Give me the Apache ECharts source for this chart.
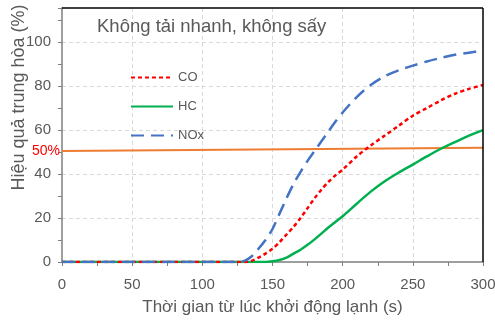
<!DOCTYPE html>
<html><head><meta charset="utf-8">
<script src="https://cdn.jsdelivr.net/npm/echarts@6/dist/echarts.min.js"></script>
<style>html,body{margin:0;padding:0;background:#fff}#c{width:495px;height:321px}</style>
</head><body><div id="c"></div>
<script>
const titleText = 'Không tải nhanh, không sấy';
const xName = 'Thời gian từ lúc khởi động lạnh (s)';
const yName = 'Hiệu quả trung hòa (%)';
const seriesNames = ['CO', 'HC', 'NOx'];
const times = [0, 120, 125, 130, 135, 140, 145, 150, 155, 160, 165, 170, 175, 180, 185, 190, 195, 200, 210, 220, 230, 240, 250, 260, 270, 280, 290, 300];
const coValues  = [0, 0, 0, 0, 0.5, 2, 3.8, 6, 9, 12.5, 16, 20, 24.5, 29, 33, 36.5, 39.5, 42, 48, 53, 57.5, 62, 66.5, 70, 73.5, 76.5, 78.7, 80.5];
const hcValues  = [0, 0, 0, 0, 0, 0, 0, 0.3, 0.9, 2, 3.8, 5.6, 7.8, 10.3, 13, 15.8, 18.3, 20.8, 26.5, 32, 36.7, 40.7, 44.3, 48, 51.5, 54.5, 57.5, 60];
const noxValues = [0, 0, 0, 0.5, 2.5, 6, 10, 15, 22, 29, 35.5, 41, 46, 50.5, 55, 59.5, 64, 68, 75, 80.5, 84.5, 87.2, 89.3, 91.2, 92.8, 94.2, 95.2, 96];
const refTimes = [0, 300];
const refValues = [50.5, 52];
const refLabel = '50%';
const xTicks = [0, 50, 100, 150, 200, 250, 300];
const yTicks = [0, 20, 40, 60, 80, 100];
const X_MIN = 0, X_MAX = 300, Y_MIN = 0, Y_MAX = 115.5;

const FONT = 'Liberation Sans';
const chart = echarts.init(document.getElementById('c'));
const pair = (xs, ys) => xs.map((x, i) => [x, ys[i]]);
chart.setOption({
  animation: false,
  backgroundColor: '#fff',
  textStyle: { fontFamily: FONT },
  title: { text: titleText, left: 92, top: 12, textStyle: { fontFamily: FONT, fontSize: 18.5, fontWeight: 'normal', color: '#595959' } },
  legend: {
    data: seriesNames, orient: 'vertical', left: 125, top: 66,
    itemWidth: 42, itemHeight: 14, itemGap: 16,
    itemStyle: { opacity: 0 },
    textStyle: { fontFamily: FONT, fontSize: 13, color: '#595959' }
  },
  grid: { left: 62, right: 12, top: 8, bottom: 59, outerBoundsMode: 'none' },
  xAxis: [{
    type: 'value', min: X_MIN, max: X_MAX, interval: 50,
    name: xName, nameLocation: 'middle', nameGap: 37, nameMoveOverlap: false,
    nameTextStyle: { fontFamily: FONT, fontSize: 17, color: '#595959' },
    axisLine: { onZero: false, lineStyle: { color: '#7f7f7f', width: 1.5 } },
    axisTick: { show: true, length: 4, lineStyle: { color: '#7f7f7f' } },
    minorTick: { show: true, splitNumber: 2, length: 4, lineStyle: { color: '#7f7f7f' } },
    axisLabel: { fontFamily: FONT, fontSize: 15, color: '#595959', margin: 15, formatter: v => xTicks.includes(v) ? String(v) : '' },
    splitLine: { show: true, showMinLine: false, showMaxLine: false, lineStyle: { color: '#d9d9d9', type: [4, 3], width: 1 } }
  }],
  yAxis: [{
    type: 'value', min: Y_MIN, max: Y_MAX, interval: 20,
    name: yName, nameLocation: 'middle', nameGap: 34, nameMoveOverlap: false,
    nameTextStyle: { fontFamily: FONT, fontSize: 18, color: '#595959', padding: [0, 0, 0, 75] },
    axisLine: { show: true, onZero: false, lineStyle: { color: '#7f7f7f', width: 1.5 } },
    axisTick: { show: false },
    axisLabel: { fontFamily: FONT, fontSize: 15, color: '#595959', margin: 11, showMaxLabel: false, formatter: v => yTicks.includes(v) ? String(v) : '' },
    splitLine: { show: true, showMinLine: false, showMaxLine: false, lineStyle: { color: '#d9d9d9', type: [4, 3], width: 1 } }
  }, {
    type: 'value', min: Y_MIN, max: Y_MAX, interval: 10, position: 'left',
    axisLine: { show: false, onZero: false },
    axisTick: { show: true, length: 4, lineStyle: { color: '#7f7f7f' } },
    axisLabel: { show: false },
    splitLine: { show: false }
  }],
  series: [
    { name: 'ref', type: 'line', data: pair(refTimes, refValues).map((d, i) => i === 0 ? { value: d, label: { show: true, position: 'left', distance: 2, formatter: refLabel, color: '#ff0000', fontSize: 14, fontFamily: FONT } } : d),
      symbol: 'circle', symbolSize: 0.1, showSymbol: true, clip: false,
      lineStyle: { color: '#ED7D31', width: 2 }, itemStyle: { color: '#ED7D31' }, z: 1,
      markLine: { silent: true, symbol: ['none', 'none'], label: { show: false }, z: 10,
        lineStyle: { color: '#000', width: 1.5, type: 'solid' },
        data: [{ yAxis: Y_MAX }, { xAxis: X_MAX }] } },
    { name: 'HC', type: 'line', data: pair(times, hcValues), smooth: 0.3, symbol: 'none',
      lineStyle: { color: '#00B050', width: 2.5 }, itemStyle: { color: '#00B050' }, z: 2 },
    { name: 'CO', type: 'line', data: pair(times, coValues), smooth: 0.3, symbol: 'none',
      lineStyle: { color: '#FF0000', width: 2.5, type: [4, 3] }, itemStyle: { color: '#FF0000' }, z: 3 },
    { name: 'NOx', type: 'line', data: pair(times, noxValues), smooth: 0.3, symbol: 'none',
      lineStyle: { color: '#4472C4', width: 2.5, type: [13, 7] }, itemStyle: { color: '#4472C4' }, z: 4 }
  ]
});
</script></body></html>
